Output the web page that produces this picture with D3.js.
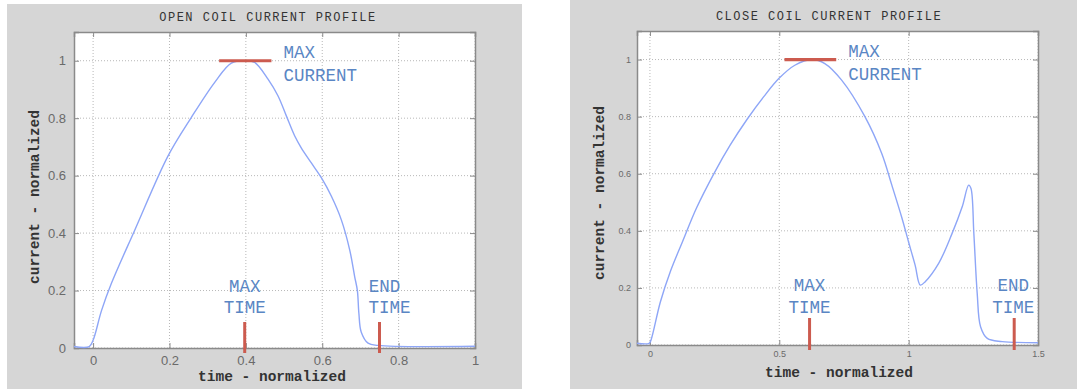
<!DOCTYPE html>
<html>
<head>
<meta charset="utf-8">
<script src="https://cdn.jsdelivr.net/npm/d3@7"></script>
<style>
  html, body { margin: 0; padding: 0; background: #ffffff; }
  svg { display: block; }
</style>
</head>
<body>
<svg id="chart" width="1077" height="389"></svg>
<script>
// ---------- DATA ----------
const openTime = [-0.05, -0.01, 0.0, 0.022, 0.048, 0.109, 0.196, 0.257, 0.318, 0.362, 0.401, 0.423, 0.458, 0.484, 0.506, 0.528, 0.545, 0.571, 0.598, 0.624, 0.65, 0.672, 0.685, 0.692, 0.696, 0.702, 0.72, 0.746, 1.0];
const openCurrent = [0.005, 0.005, 0.027, 0.13, 0.225, 0.41, 0.668, 0.802, 0.924, 0.992, 1.0, 0.994, 0.936, 0.878, 0.808, 0.738, 0.697, 0.645, 0.592, 0.528, 0.446, 0.341, 0.248, 0.2, 0.12, 0.056, 0.017, 0.009, 0.006];

const closeTime = [-0.05, -0.003, 0.004, 0.04, 0.08, 0.125, 0.18, 0.25, 0.31, 0.375, 0.44, 0.5, 0.56, 0.625, 0.676, 0.741, 0.831, 0.896, 0.935, 0.974, 1.0, 1.025, 1.045, 1.064, 1.116, 1.168, 1.207, 1.232, 1.241, 1.252, 1.265, 1.278, 1.304, 1.362, 1.5];
const closeCurrent = [0.006, 0.006, 0.017, 0.15, 0.26, 0.36, 0.48, 0.605, 0.70, 0.79, 0.87, 0.935, 0.98, 1.0, 0.986, 0.928, 0.8, 0.671, 0.56, 0.445, 0.36, 0.28, 0.21, 0.222, 0.286, 0.391, 0.484, 0.56, 0.548, 0.391, 0.181, 0.064, 0.023, 0.012, 0.008];

const titles = ["OPEN COIL CURRENT PROFILE", "CLOSE COIL CURRENT PROFILE"];
const xLabel = "time - normalized";
const yLabel = "current - normalized";
const openXTicks = [0, 0.2, 0.4, 0.6, 0.8, 1];
const closeXTicks = [0, 0.5, 1, 1.5];
const yTicks = [0, 0.2, 0.4, 0.6, 0.8, 1];
const openXDomain = [-0.05, 1];
const closeXDomain = [-0.05, 1.5];
const yDomain = [0, 1.1];

// annotations: [maxCurrent start, maxCurrent end, maxTime, endTime]
const openMarks = [0.33, 0.467, 0.397, 0.75];
const closeMarks = [0.52, 0.72, 0.617, 1.408];
const annMax = ["MAX", "CURRENT"];
const annMaxTime = ["MAX", "TIME"];
const annEndTime = ["END", "TIME"];

// ---------- DRAW ----------
const svg = d3.select("#chart");
const mono = "'Courier New', 'Liberation Mono', monospace";
const blueText = "#5a86c4";
const red = "#cc5b4f";
const lineCol = "#8ea6f7";

function panel(cfg) {
  const g = svg.append("g");
  g.append("rect").attr("x", cfg.bg[0]).attr("y", cfg.bg[1])
    .attr("width", cfg.bg[2]).attr("height", cfg.bg[3]).attr("fill", "#d6d6d6");

  const x = d3.scaleLinear().domain(cfg.xDomain).range([cfg.left, cfg.right]);
  const y = d3.scaleLinear().domain(yDomain).range([cfg.bottom, cfg.top]);

  g.append("rect").attr("x", cfg.left).attr("y", cfg.top)
    .attr("width", cfg.right - cfg.left).attr("height", cfg.bottom - cfg.top)
    .attr("fill", "#ffffff");

  g.append("g").selectAll("line").data(cfg.xTicks).join("line")
    .attr("x1", d => x(d)).attr("x2", d => x(d))
    .attr("y1", cfg.top).attr("y2", cfg.bottom)
    .attr("stroke", "#b8b8b8").attr("stroke-width", 1).attr("stroke-dasharray", "1,2");
  g.append("g").selectAll("line").data(yTicks).join("line")
    .attr("x1", cfg.left).attr("x2", cfg.right)
    .attr("y1", d => y(d)).attr("y2", d => y(d))
    .attr("stroke", "#b8b8b8").attr("stroke-width", 1).attr("stroke-dasharray", "1,2");

  const tl = 5;
  const axB = g.append("g").attr("transform", `translate(0,${cfg.bottom})`)
    .call(d3.axisBottom(x).tickValues(cfg.xTicks).tickSize(-tl).tickPadding(cfg.xPad)
      .tickFormat(d => String(d)));
  const axT = g.append("g").attr("transform", `translate(0,${cfg.top})`)
    .call(d3.axisTop(x).tickValues(cfg.xTicks).tickSize(-tl).tickFormat(""));
  const axL = g.append("g").attr("transform", `translate(${cfg.left},0)`)
    .call(d3.axisLeft(y).tickValues(yTicks).tickSize(-tl).tickPadding(cfg.yPad)
      .tickFormat(d => String(d)));
  const axR = g.append("g").attr("transform", `translate(${cfg.right},0)`)
    .call(d3.axisRight(y).tickValues(yTicks).tickSize(-tl).tickFormat(""));
  [axB, axT, axL, axR].forEach(a => {
    a.select(".domain").attr("stroke", "#8a8a8a").attr("stroke-width", 1.5);
    a.selectAll(".tick line").attr("stroke", "#8a8a8a");
    a.selectAll("text").attr("fill", "#6a6a6a").attr("font-family", "'Liberation Sans', Arial, sans-serif")
      .attr("font-size", cfg.tickFont);
  });

  const line = d3.line().x(d => x(d[0])).y(d => y(d[1])).curve(d3.curveCatmullRom.alpha(0.5));
  g.append("path").datum(d3.zip(cfg.tData, cfg.cData))
    .attr("d", line).attr("fill", "none").attr("stroke", lineCol).attr("stroke-width", 1.4);

  const m = cfg.marks;
  g.append("line").attr("x1", x(m[0])).attr("x2", x(m[1]))
    .attr("y1", y(1)).attr("y2", y(1)).attr("stroke", red).attr("stroke-width", 3.2);
  [m[2], m[3]].forEach(v => {
    g.append("line").attr("x1", x(v)).attr("x2", x(v))
      .attr("y1", cfg.tickTop).attr("y2", cfg.bottom + 5)
      .attr("stroke", red).attr("stroke-width", 3);
  });
  const annFont = 17.5;
  const txt = (str, px, py, anchor) => g.append("text").attr("x", px).attr("y", py)
    .attr("text-anchor", anchor).attr("font-family", mono).attr("font-size", annFont)
    .attr("fill", blueText).text(str);
  txt(annMax[0], x(m[1]) + 12, y(1) - 3, "start");
  txt(annMax[1], x(m[1]) + 12, y(1) + 20, "start");
  txt(annMaxTime[0], x(m[2]), cfg.annY[0], "middle");
  txt(annMaxTime[1], x(m[2]), cfg.annY[1], "middle");
  txt(annEndTime[0], x(m[3]) + cfg.endDx[0], cfg.annY[0], "middle");
  txt(annEndTime[1], x(m[3]) + cfg.endDx[1], cfg.annY[1], "middle");

  g.append("text").attr("x", cfg.titleX).attr("y", cfg.titleY).attr("text-anchor", "middle")
    .attr("font-family", mono).attr("font-size", 12).attr("letter-spacing", 1.5)
    .attr("fill", "#333").text(cfg.title);
  g.append("text").attr("x", cfg.xLabX).attr("y", cfg.xLabY).attr("text-anchor", "middle")
    .attr("font-family", mono).attr("font-size", 14.5).attr("font-weight", "bold")
    .attr("fill", "#333").text(xLabel);
  g.append("text").attr("transform", `translate(${cfg.yLabX},${cfg.yLabY}) rotate(-90)`)
    .attr("text-anchor", "middle")
    .attr("font-family", mono).attr("font-size", 14.5).attr("font-weight", "bold")
    .attr("fill", "#333").text(yLabel);
}

panel({
  bg: [7, 4, 515, 385],
  left: 74, right: 475, top: 32, bottom: 348,
  xDomain: openXDomain, xTicks: openXTicks,
  tData: openTime, cData: openCurrent,
  marks: openMarks, tickTop: 322, annY: [292, 313], endDx: [5, 10],
  xPad: 8, yPad: 8, tickFont: 13,
  title: titles[0], titleX: 268, titleY: 21,
  xLabX: 272, xLabY: 381, yLabX: 39, yLabY: 197
});

panel({
  bg: [570, 0, 507, 389],
  left: 637, right: 1038, top: 31, bottom: 345,
  xDomain: closeXDomain, xTicks: closeXTicks,
  tData: closeTime, cData: closeCurrent,
  marks: closeMarks, tickTop: 318, annY: [291, 313], endDx: [-1, -1],
  xPad: 6, yPad: 6, tickFont: 9,
  title: titles[1], titleX: 829, titleY: 20,
  xLabX: 839, xLabY: 377, yLabX: 604, yLabY: 193
});
</script>
</body>
</html>
